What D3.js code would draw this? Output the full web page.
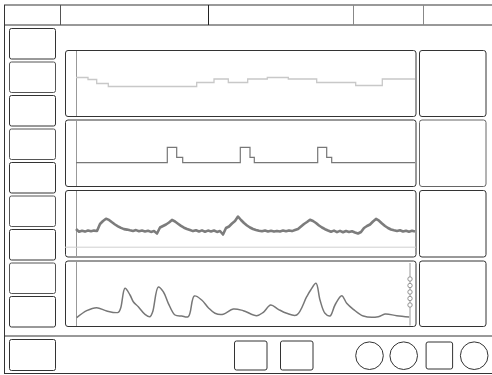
<!DOCTYPE html>
<html><head><meta charset="utf-8">
<script src="https://cdn.jsdelivr.net/npm/d3@7"></script>
<style>html,body{margin:0;padding:0;background:#fff;}svg{display:block;}</style>
</head><body>
<svg id="c" width="492" height="375"></svg>
<script>
// ---- data ----
// panel 1: step trace (time, value)
const trace1 = [[0,39.5],[12,37.5],[20.7,33.5],[32.3,30.5],[120.7,34.5],[138,38],[152.3,34.5],[171.7,38],[191.3,39.5],[212.3,38],[240.7,34.5],[279.7,31.5],[306.3,38],[339,38]];
// panel 2: pulse trace
const trace2 = [[0,24.3],[91.3,39.7],[100.7,29.7],[106.7,24.3],[164.3,39.7],[174,29.7],[178.3,24.3],[241.7,39.7],[250.7,29.7],[255.7,24.3],[339,24.3]];
// panel 3: noisy trace, one sample every 3 time units
const trace3 = [28.5,25.8,26.8,25.9,27.0,26.2,26.9,26.5,33.5,36.5,38.8,37.6,35.2,33.0,31.2,29.6,28.4,27.9,27.2,26.6,27.4,26.3,27.0,26.1,26.8,25.6,26.4,24.0,30.0,31.5,33.0,35.0,37.6,36.0,33.8,31.6,29.8,28.5,27.5,26.4,27.3,26.0,27.1,25.8,26.9,26.1,27.0,25.6,26.5,23.0,29.5,31.0,34.0,36.5,41.0,37.5,34.5,32.0,30.0,28.5,27.6,26.8,26.2,27.0,26.0,26.7,25.9,26.6,26.0,26.9,26.2,27.1,26.4,27.5,28.5,31.0,33.5,35.5,37.8,36.5,34.5,32.0,30.0,28.3,27.0,25.8,26.9,25.4,26.6,25.2,26.5,25.5,26.3,25.0,24.0,25.5,29.5,31.5,33.0,36.0,38.6,36.8,34.0,31.5,29.5,28.0,27.2,26.5,27.3,26.0,26.8,25.8,26.7,26.0];
const trace3Step = 3;
const trace3Ref = 10.3;
// panel 4: smooth trace (time, value)
const trace4 = [[0.7,9.3],[10.7,16.3],[20.7,19.3],[30.7,16],[42.3,14.7],[44.7,19],[49,38.7],[54,32],[57.3,25.3],[62.3,20.3],[69,12.7],[74,10.3],[76.7,15.3],[82.3,40],[87.3,35.3],[92.3,23.7],[99,12],[105.7,11],[112.3,10.3],[118.3,31],[125.7,27],[132.3,19.3],[139,13.7],[147.3,12.7],[157.3,18],[167.3,16.3],[180.7,11.3],[187.3,14.7],[194.7,22],[202.3,17.7],[210.7,13.7],[220.7,12],[230.7,30.3],[234.7,37],[240,43.7],[244,27],[249,13.7],[254,11],[259,22],[265.7,31.3],[270.7,23.7],[277.3,17.7],[287.3,11],[302.3,10.3],[309,13],[320.7,11.3],[333.3,10]];
const markers4 = [48, 41.5, 35, 28.5, 22];
const markerT = 334;

const leftButtons = 9;
const headerCells = [0,1,2,3,4];
const bottomSquares = [0,1];
const bottomIcons = ["c","c","s","c"];

// ---- layout ----
const svg = d3.select("#c");
const x = d3.scaleLinear().domain([0,340]).range([76,416]);

const frame = svg.append("g").attr("fill","none");
frame.append("line").attr("x1",4).attr("x2",492).attr("y1",5).attr("y2",5).attr("stroke","#777").attr("stroke-width",1.5);
frame.append("line").attr("x1",4).attr("x2",492).attr("y1",25).attr("y2",25).attr("stroke","#333");
frame.append("line").attr("x1",4.5).attr("x2",4.5).attr("y1",5).attr("y2",373).attr("stroke","#333");
const divX = [60,208,353,423], divC = ["#555","#222","#888","#888"];
divX.forEach((d,i)=>frame.append("line").attr("x1",d+0.5).attr("x2",d+0.5).attr("y1",5).attr("y2",25).attr("stroke",divC[i]));
frame.append("line").attr("x1",4).attr("x2",492).attr("y1",336).attr("y2",336).attr("stroke","#333");
frame.append("line").attr("x1",4).attr("x2",492).attr("y1",373.5).attr("y2",373.5).attr("stroke","#333");

// left buttons
const by = d3.scaleLinear().domain([0,8]).range([28.5,296.5]);
svg.append("g").selectAll("rect").data(d3.range(leftButtons)).join("rect")
  .attr("x",9.5).attr("y",d=>by(d)).attr("width",46).attr("height",30.5).attr("rx",2)
  .attr("fill","none").attr("stroke",(d,i)=>i%2?"#555":"#333");

// panels
const panels = [{t:50,b:117},{t:119.5,b:187},{t:190,b:257.5},{t:260.5,b:327}];
const g = svg.append("g");
panels.forEach((p,i)=>{
  g.append("rect").attr("x",65.5).attr("y",p.t+0.5).attr("width",350.5).attr("height",p.b-p.t-1).attr("rx",2.5)
    .attr("fill","none").attr("stroke","#333");
  g.append("line").attr("x1",76.5).attr("x2",76.5).attr("y1",p.t+1).attr("y2",p.b-1).attr("stroke","#999");
  g.append("rect").attr("x",419.5).attr("y",p.t+0.5).attr("width",66.5).attr("height",p.b-p.t-1).attr("rx",2.5)
    .attr("fill","none").attr("stroke",i===1?"#666":"#333");
});

function yScale(p){ return d3.scaleLinear().domain([0,p.b-p.t]).range([p.b,p.t]); }
const y1 = yScale(panels[0]), y2 = yScale(panels[1]), y3 = yScale(panels[2]), y4 = yScale(panels[3]);

g.append("path").datum(trace1)
  .attr("d", d3.line().x(d=>x(d[0])).y(d=>y1(d[1])).curve(d3.curveStepAfter))
  .attr("fill","none").attr("stroke","#c8c8c8").attr("stroke-width",1.3);

g.append("path").datum(trace2)
  .attr("d", d3.line().x(d=>x(d[0])).y(d=>y2(d[1])).curve(d3.curveStepAfter))
  .attr("fill","none").attr("stroke","#777").attr("stroke-width",1.2);

g.append("line").attr("x1",x(-11)).attr("x2",x(340)).attr("y1",y3(trace3Ref)).attr("y2",y3(trace3Ref)).attr("stroke","#cfcfcf").attr("stroke-width",1);
g.append("path").datum(trace3)
  .attr("d", d3.line().x((d,i)=>x(i*trace3Step)).y(d=>y3(d)))
  .attr("fill","none").attr("stroke","#7c7c7c").attr("stroke-width",2.6).attr("stroke-linejoin","round");

g.append("path").datum(trace4)
  .attr("d", d3.line().x(d=>x(d[0])).y(d=>y4(d[1])).curve(d3.curveCatmullRom))
  .attr("fill","none").attr("stroke","#777").attr("stroke-width",1.5);
g.append("line").attr("x1",x(markerT)).attr("x2",x(markerT)).attr("y1",y4(64)).attr("y2",y4(1.5)).attr("stroke","#aaa").attr("stroke-width",1.2);
g.selectAll("circle.m").data(markers4).join("circle").attr("class","m")
  .attr("cx",x(markerT)).attr("cy",d=>y4(d)).attr("r",2.2).attr("fill","#fff").attr("stroke","#888").attr("stroke-width",0.9);

// bottom bar
const bb = svg.append("g").attr("fill","none").attr("stroke","#333");
bb.append("rect").attr("x",9.5).attr("y",339.5).attr("width",46).attr("height",31).attr("rx",2);
const sqX = [234.5,280.5];
bb.selectAll("rect.s").data(bottomSquares).join("rect").attr("class","s")
  .attr("x",d=>sqX[d]).attr("y",341).attr("width",32.5).attr("height",29).attr("rx",2);
const icX = [369.5,403.7,439.3,474.2];
bottomIcons.forEach((k,i)=>{
  if(k==="c") bb.append("circle").attr("cx",icX[i]).attr("cy",355.7).attr("r",13.8);
  else bb.append("rect").attr("x",icX[i]-13.2).attr("y",342).attr("width",26.5).attr("height",27).attr("rx",2);
});
</script>
</body></html>
